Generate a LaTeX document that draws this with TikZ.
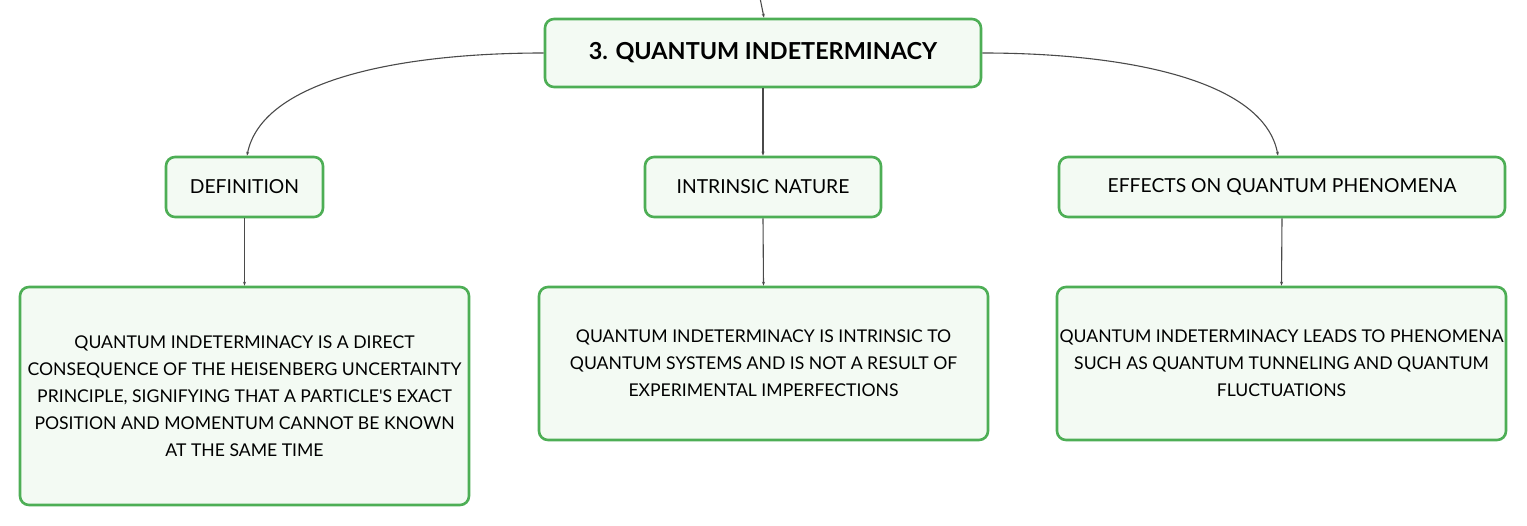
\documentclass[tikz,border=0pt]{standalone}
\usepackage{fontspec}
\setmainfont{Lato}
\usetikzlibrary{arrows.meta}
\definecolor{boxgreen}{HTML}{4DAE55}
\definecolor{boxfill}{HTML}{F3FAF3}
\definecolor{linkgray}{HTML}{4A4A4A}
\tikzset{
  card/.style={draw=boxgreen, fill=boxfill, line width=2.6pt, rounded corners=9pt,
    align=center, inner sep=0pt, font=\fontsize{17.6}{27}\selectfont},
  labelcard/.style={card, font=\fontsize{19.3}{27}\selectfont},
  titlecard/.style={card, font=\fontsize{23.4}{27}\selectfont\bfseries},
  link/.style={draw=linkgray, line width=1.1pt, -{Stealth[length=4pt,width=3pt]}},
}
\begin{document}
\begin{tikzpicture}[x=1pt,y=-1pt]
\useasboundingbox (0,0) rectangle (1527,526);
\node[titlecard, minimum width=436pt, minimum height=68pt] (top) at (763,53) {3. QUANTUM INDETERMINACY};
\node[labelcard, minimum width=157pt, minimum height=60pt] (def) at (244.5,187) {DEFINITION};
\node[labelcard, minimum width=236pt, minimum height=60pt] (intr) at (763,187) {INTRINSIC NATURE};
\node[labelcard, minimum width=446pt, minimum height=60pt] (eff) at (1282,187) {EFFECTS ON QUANTUM PHENOMENA};
\node[card, minimum width=449pt, minimum height=218pt] (deft) at (244.5,396) {QUANTUM INDETERMINACY IS A DIRECT\\CONSEQUENCE OF THE HEISENBERG UNCERTAINTY\\PRINCIPLE, SIGNIFYING THAT A PARTICLE\textquotesingle S EXACT\\POSITION AND MOMENTUM CANNOT BE KNOWN\\AT THE SAME TIME};
\node[card, minimum width=449pt, minimum height=153pt] (intrt) at (763.5,363.5) {QUANTUM INDETERMINACY IS INTRINSIC TO\\QUANTUM SYSTEMS AND IS NOT A RESULT OF\\EXPERIMENTAL IMPERFECTIONS};
\node[card, minimum width=449pt, minimum height=153pt] (efft) at (1281.5,363.5) {QUANTUM INDETERMINACY LEADS TO PHENOMENA\\SUCH AS QUANTUM TUNNELING AND QUANTUM\\FLUCTUATIONS};
\coordinate (in) at (760,-2);
\draw[link] (in) -- ([xshift=1pt]top.north);
\draw[link] (top.west) .. controls (400,53) and (262,80) .. ([xshift=2.5pt]def.north);
\draw[link] (top.east) .. controls (1126,53) and (1264,80) .. ([xshift=-4pt]eff.north);
\draw[link] (top.south) -- (intr.north);
\draw[link] (def.south) -- (deft.north);
\draw[link] (intr.south) -- (intrt.north);
\draw[link] (eff.south) -- (efft.north);
\end{tikzpicture}
\end{document}
